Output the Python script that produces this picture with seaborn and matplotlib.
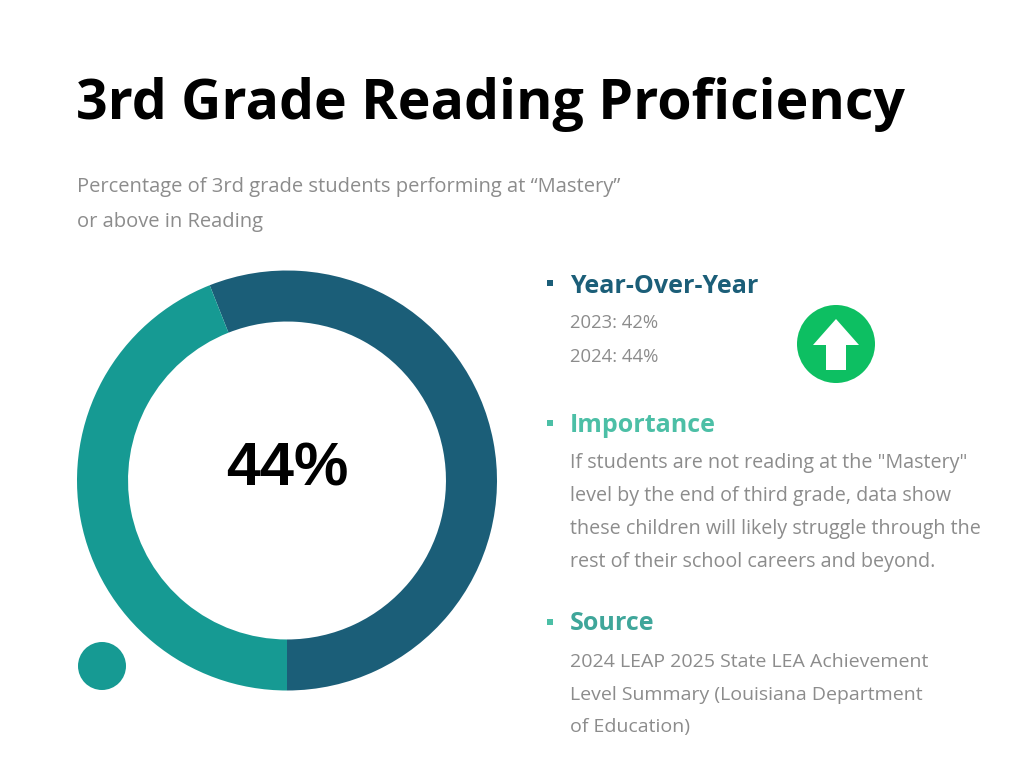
import matplotlib
matplotlib.use("Agg")
import matplotlib.pyplot as plt
import seaborn as sns
from matplotlib.patches import Circle, Rectangle, Polygon

# data
segments = ["Mastery or above", "Below Mastery"]
shares = [56, 44]          # dark part, teal part (teal = 44%)
headline = "44%"
yoy_years = ["2023", "2024"]
yoy_values = [42, 44]

title = "3rd Grade Reading Proficiency"
subtitle = ["Percentage of 3rd grade students performing at \u201cMastery\u201d",
            "or above in Reading"]
importance_lines = ['If students are not reading at the "Mastery"',
                    "level by the end of third grade, data show",
                    "these children will likely struggle through the",
                    "rest of their school careers and beyond."]
source_lines = ["2024 LEAP 2025 State LEA Achievement",
                "Level Summary (Louisiana Department",
                "of Education)"]

DARK = "#1b5e78"
TEAL = "#169a93"
LIGHT = "#4cbfa6"
SRC = "#3fa69a"
GRAY = "#8c8c8c"
GREEN = "#0dbf62"

sns.set_theme(style="white")
plt.rcParams["font.family"] = ["Open Sans", "DejaVu Sans"]

W, H = 1024, 768
fig = plt.figure(figsize=(W / 100, H / 100), dpi=100)
fig.patch.set_facecolor("white")


def fx(px):
    return px / W


def fy(py):
    return 1 - py / H


# overlay axes in pixel coords for decorations
deco = fig.add_axes([0, 0, 1, 1])
deco.set_xlim(0, W)
deco.set_ylim(H, 0)
deco.axis("off")

# donut
ax = fig.add_axes([fx(77), fy(691), 420 / W, 421 / H])
ax.pie(shares, colors=[DARK, TEAL], startangle=270, counterclock=True,
       radius=1, wedgeprops=dict(width=0.243, linewidth=0))
ax.set_xlim(-1, 1)
ax.set_ylim(-1, 1)
ax.set_aspect("equal")
ax.axis("off")
ax.text(0, 0.05, headline, ha="center", va="center", fontsize=44,
        fontweight="bold", family="Liberation Sans", color="black")

# small dot
deco.add_patch(Circle((102, 666), 24, color=TEAL, lw=0))

# title + subtitle
fig.text(fx(76), fy(119), title, fontsize=40, fontweight="bold",
         color="black", va="baseline")
fig.text(fx(77), fy(192), subtitle[0], fontsize=14.5, color=GRAY, va="baseline")
fig.text(fx(77), fy(227), subtitle[1], fontsize=14.5, color=GRAY, va="baseline")

# right panel
x0 = 570
deco.add_patch(Rectangle((547, 280), 6, 6, color=DARK, lw=0))
fig.text(fx(x0), fy(293), "Year-Over-Year", fontsize=18, fontweight="bold",
         color=DARK, va="baseline")
for i, (yr, v) in enumerate(zip(yoy_years, yoy_values)):
    fig.text(fx(x0), fy(328 + 34 * i), f"{yr}: {v}%", fontsize=13.3,
             color=GRAY, va="baseline")

# up arrow badge
deco.add_patch(Circle((836, 344), 39, color=GREEN, lw=0))
deco.add_patch(Polygon([(836, 319), (859, 345), (846, 345), (846, 370),
                        (826, 370), (826, 345), (813, 345)],
                       closed=True, color="white", lw=0))

deco.add_patch(Rectangle((547, 420), 6, 6, color=LIGHT, lw=0))
fig.text(fx(x0), fy(432), "Importance", fontsize=18, fontweight="bold",
         color=LIGHT, va="baseline")
for i, line in enumerate(importance_lines):
    fig.text(fx(x0), fy(468 + 33 * i), line, fontsize=14.2, color=GRAY,
             va="baseline")

deco.add_patch(Rectangle((547, 619), 6, 6, color=LIGHT, lw=0))
fig.text(fx(x0), fy(630), "Source", fontsize=18, fontweight="bold",
         color=SRC, va="baseline")
for i, line in enumerate(source_lines):
    fig.text(fx(x0), fy(667 + 32.5 * i), line, fontsize=14, color=GRAY,
             va="baseline")

fig.savefig("out.png", dpi=100, facecolor="white")
